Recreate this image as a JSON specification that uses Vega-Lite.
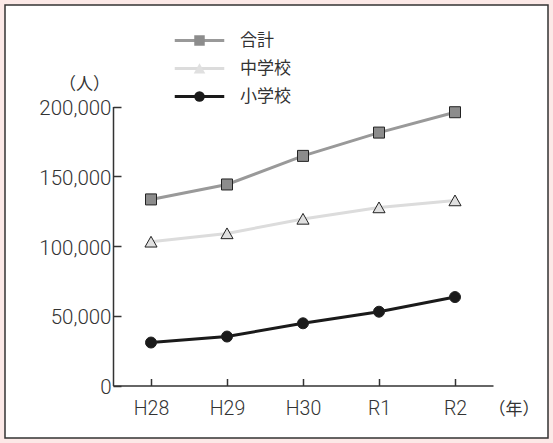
{
  "$schema": "https://vega.github.io/schema/vega-lite/v6.json",
  "width": 543,
  "height": 433,
  "autosize": "none",
  "padding": 5,
  "background": "#fce9e7",
  "config": {
    "view": {"fill": "white", "stroke": "#333333", "strokeWidth": 1.5},
    "axis": {"grid": false}
  },
  "data": {
    "values": [
      {"year": "H28", "series": "合計", "value": 133400},
      {"year": "H29", "series": "合計", "value": 144100},
      {"year": "H30", "series": "合計", "value": 164600},
      {"year": "R1", "series": "合計", "value": 181300},
      {"year": "R2", "series": "合計", "value": 195900},
      {"year": "H28", "series": "中学校", "value": 103000},
      {"year": "H29", "series": "中学校", "value": 109000},
      {"year": "H30", "series": "中学校", "value": 119400},
      {"year": "R1", "series": "中学校", "value": 127600},
      {"year": "R2", "series": "中学校", "value": 132600},
      {"year": "H28", "series": "小学校", "value": 30800},
      {"year": "H29", "series": "小学校", "value": 35100},
      {"year": "H30", "series": "小学校", "value": 44600},
      {"year": "R1", "series": "小学校", "value": 52900},
      {"year": "R2", "series": "小学校", "value": 63400}
    ]
  },
  "encoding": {
    "x": {
      "field": "year", "type": "ordinal", "sort": ["H28", "H29", "H30", "R1", "R2"],
      "scale": {"type": "point", "range": [108, 488], "padding": 0.5},
      "axis": {
        "orient": "bottom", "offset": -52.5, "labelAngle": 0,
        "title": "（年）", "titleAngle": 0, "titleX": 508.5, "titleY": 23.5,
        "titleAlign": "center", "titleBaseline": "middle",
        "titleFont": "Noto Sans CJK JP", "titleFontSize": 17, "titleFontWeight": "normal", "titleColor": "#333333",
        "domainColor": "#333333", "domainWidth": 1.5, "tickColor": "#333333", "tickWidth": 1.5, "tickSize": -7,
        "labelFont": "Roboto", "labelFontWeight": 300, "labelFontSize": 19.5, "labelColor": "#333333",
        "labelPadding": 21
      }
    },
    "y": {
      "field": "value", "type": "quantitative",
      "scale": {"domain": [0, 200000], "range": [380.5, 101.5], "nice": false, "zero": true},
      "axis": {
        "orient": "left", "offset": -108, "values": [0, 50000, 100000, 150000, 200000], "format": ",d",
        "title": "（人）", "titleAngle": 0, "titleX": -29, "titleY": 79,
        "titleAlign": "center", "titleBaseline": "middle",
        "titleFont": "Noto Sans CJK JP", "titleFontSize": 17, "titleFontWeight": "normal", "titleColor": "#333333",
        "domainColor": "#333333", "domainWidth": 1.5, "tickColor": "#333333", "tickWidth": 1.5, "tickSize": -8,
        "labelFont": "Roboto", "labelFontWeight": 300, "labelFontSize": 20.5, "labelColor": "#333333",
        "labelPadding": 10, "labelOffset": 2
      }
    }
  },
  "layer": [
    {
      "mark": {"type": "line", "strokeWidth": 3},
      "encoding": {
        "stroke": {
          "field": "series", "type": "nominal", "sort": ["合計", "中学校", "小学校"],
          "scale": {"range": ["#999999", "#dcdcdc", "#1a1a1a"]},
          "legend": {
            "orient": "none", "legendX": 186, "legendY": 27, "title": null, "padding": 0,
            "symbolType": "M-4.5,0H4.5", "symbolSize": 121, "symbolStrokeWidth": 3, "symbolFillColor": "transparent",
            "labelFont": "Noto Sans CJK JP", "labelFontSize": 17, "labelColor": "#333333", "labelOffset": 32,
            "rowPadding": 10, "zindex": 0
          }
        }
      }
    },
    {
      "mark": {"type": "point", "filled": true, "size": 121, "stroke": "#222222", "strokeWidth": 1, "opacity": 1},
      "encoding": {
        "fill": {
          "field": "series", "type": "nominal",
          "scale": {"domain": ["合計", "中学校", "小学校"], "range": ["#8c8c8c", "#e0e0e0", "#1a1a1a"]},
          "legend": {
            "orient": "none", "legendX": 186, "legendY": 27, "title": null, "padding": 0,
            "symbolSize": 110, "symbolStrokeWidth": 1.2, "symbolStrokeColor": "#111111", "symbolOpacity": 1,
            "labelFont": "Noto Sans CJK JP", "labelFontSize": 17, "labelOpacity": 0, "labelOffset": 32,
            "rowPadding": 10, "zindex": 3
          }
        },
        "shape": {
          "field": "series", "type": "nominal",
          "scale": {"domain": ["合計", "中学校", "小学校"], "range": ["square", "M0,-1L1.1,0.95L-1.1,0.95Z", "circle"]},
          "legend": {
            "orient": "none", "legendX": 186, "legendY": 27, "title": null, "padding": 0,
            "symbolSize": 110, "symbolStrokeWidth": 1.2, "symbolStrokeColor": "#111111", "symbolOpacity": 1,
            "labelFont": "Noto Sans CJK JP", "labelFontSize": 17, "labelOpacity": 0, "labelOffset": 32,
            "rowPadding": 10, "zindex": 3
          }
        }
      }
    }
  ]
}
